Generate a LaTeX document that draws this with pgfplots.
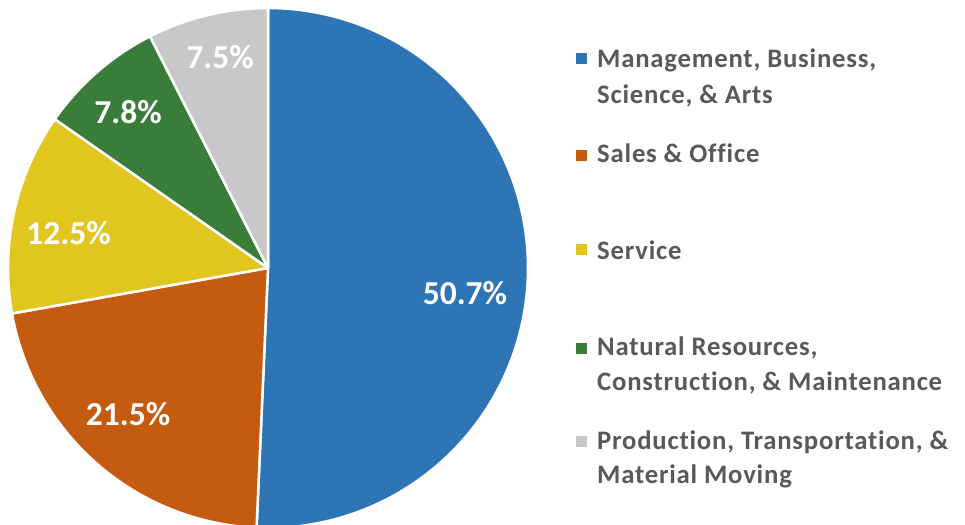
\documentclass[border=0pt]{standalone}
\usepackage{fontspec}
\setmainfont{Carlito}
\newfontfamily\legfont[LetterSpace=3.0, Ligatures={NoCommon}]{Carlito}
\usepackage{pgfplots}
\pgfplotsset{compat=1.18}
\usepgfplotslibrary{polar}
\definecolor{cA}{HTML}{2E75B6}
\definecolor{cB}{HTML}{C55A11}
\definecolor{cC}{HTML}{E2C620}
\definecolor{cD}{HTML}{3A7D3B}
\definecolor{cE}{HTML}{C8C8C8}
\definecolor{txt}{HTML}{595959}
% shares (percent)
\def\vA{50.7}
\def\vB{21.5}
\def\vC{12.5}
\def\vD{7.8}
\def\vE{7.5}
\begin{document}
\begin{tikzpicture}
\pgfmathsetmacro\aA{90}
\pgfmathsetmacro\aB{\aA-\vA*3.6}
\pgfmathsetmacro\aC{\aB-\vB*3.6}
\pgfmathsetmacro\aD{\aC-\vC*3.6}
\pgfmathsetmacro\aE{\aD-\vD*3.6}
\pgfmathsetmacro\aF{\aE-\vE*3.6}
\clip (0pt,0pt) rectangle (965pt,-524pt);
\begin{polaraxis}[at={(268pt,-268pt)}, anchor=center,
  width=520pt, height=520pt, scale only axis, hide axis,
  xmin=0, xmax=360, ymin=0, ymax=1, clip=false]
\addplot[fill=cA, draw=white, line width=2.5pt, line join=round, domain=\aB:\aA, samples=150] {1} -- (axis cs:0,0) -- cycle;
\addplot[fill=cB, draw=white, line width=2.5pt, line join=round, domain=\aC:\aB, samples=80] {1} -- (axis cs:0,0) -- cycle;
\addplot[fill=cC, draw=white, line width=2.5pt, line join=round, domain=\aD:\aC, samples=50] {1} -- (axis cs:0,0) -- cycle;
\addplot[fill=cD, draw=white, line width=2.5pt, line join=round, domain=\aE:\aD, samples=40] {1} -- (axis cs:0,0) -- cycle;
\addplot[fill=cE, draw=white, line width=2.5pt, line join=round, domain=\aF:\aE, samples=40] {1} -- (axis cs:0,0) -- cycle;
\begin{scope}[every node/.style={text=white, font=\fontsize{33.5}{40}\selectfont\bfseries, inner sep=0pt}]
\node at (axis cs:-7.4,0.764) {50.7\%};
\node at (axis cs:226.3,0.779) {21.5\%};
\node at (axis cs:170.05,0.779) {12.5\%};
\node at (axis cs:131.9,0.806) {7.8\%};
\node at (axis cs:102.8,0.832) {7.5\%};
\end{scope}
\end{polaraxis}
\begin{scope}[every node/.style={text=txt, font=\legfont\fontsize{26.7}{31}\selectfont\bfseries, inner sep=0pt, anchor=base west}]
\fill[cA] (576pt,-53pt) rectangle (587pt,-64pt);
\node at (597pt,-68pt) {Management, Business,};
\node at (597pt,-103pt) {Science, \& Arts};
\fill[cB] (576pt,-150pt) rectangle (587pt,-161pt);
\node at (597pt,-162pt) {Sales \& Office};
\fill[cC] (576pt,-244pt) rectangle (587pt,-255pt);
\node at (597pt,-259pt) {Service};
\fill[cD] (576pt,-343pt) rectangle (587pt,-354pt);
\node at (597pt,-355pt) {Natural Resources,};
\node at (597pt,-390pt) {Construction, \& Maintenance};
\fill[cE] (576pt,-436pt) rectangle (587pt,-447pt);
\node at (597pt,-449pt) {Production, Transportation, \&};
\node at (597pt,-483pt) {Material Moving};
\end{scope}
\end{tikzpicture}
\end{document}
